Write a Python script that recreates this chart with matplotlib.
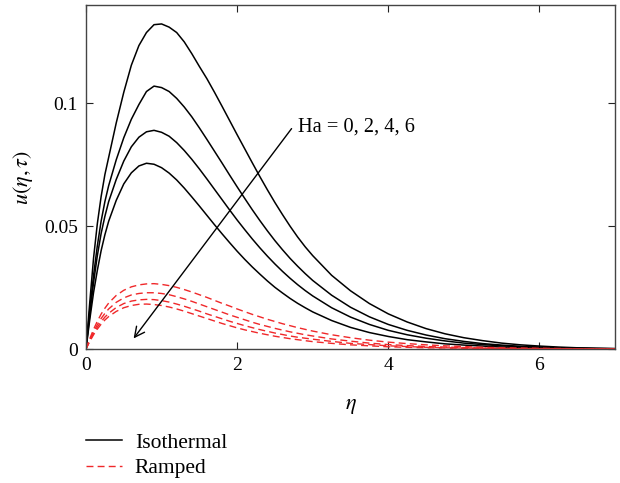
import matplotlib
matplotlib.use("Agg")
import matplotlib.pyplot as plt

plt.rcParams['font.family'] = ['Liberation Serif', 'DejaVu Serif']
plt.rcParams['mathtext.fontset'] = 'stix'

eta = [0, 0.05, 0.1, 0.15, 0.2, 0.25, 0.3,
       0.4, 0.5, 0.6, 0.7, 0.8, 0.9, 1.0, 1.1, 1.2, 1.3, 1.4, 1.5, 1.6, 1.7, 1.8, 1.9,
       2.0, 2.1, 2.2, 2.3, 2.4, 2.5, 2.6, 2.7, 2.8, 2.9, 3.0,
       3.25, 3.5, 3.75, 4.0, 4.25, 4.5, 4.75, 5.0, 5.25, 5.5, 5.75, 6.0, 6.25, 6.5, 6.75, 7.0]

iso_ha0 = [0, 0.019, 0.037, 0.051, 0.062, 0.071, 0.078,
           0.092, 0.1045, 0.1155, 0.1235, 0.1288, 0.1320, 0.1323, 0.1310, 0.1288, 0.1250,
           0.1202, 0.1150, 0.1100, 0.1045, 0.0988, 0.0930,
           0.0872, 0.0815, 0.0758, 0.0702, 0.0648, 0.0596, 0.0547, 0.0500, 0.0456, 0.0416, 0.0380,
           0.0300, 0.0237, 0.0185, 0.0143, 0.0110, 0.0083, 0.0062, 0.0046, 0.0034, 0.0024,
           0.0017, 0.0012, 0.0008, 0.0005, 0.0003, 0.0002]
iso_ha2 = [0, 0.016, 0.030, 0.042, 0.052, 0.060, 0.0665,
           0.077, 0.0860, 0.0935, 0.0995, 0.1048, 0.1070, 0.1064, 0.1048, 0.1020, 0.0985,
           0.0945, 0.0900, 0.0853, 0.0805, 0.0757, 0.0708,
           0.0660, 0.0613, 0.0567, 0.0523, 0.0481, 0.0441, 0.0404, 0.0369, 0.0337, 0.0307, 0.0279,
           0.0219, 0.0170, 0.0131, 0.0100, 0.0076, 0.0057, 0.0042, 0.0031, 0.0022, 0.0016,
           0.0011, 0.0008, 0.0005, 0.0003, 0.0002, 0.0001]
iso_ha4 = [0, 0.014, 0.027, 0.038, 0.047, 0.054, 0.060,
           0.069, 0.0765, 0.0823, 0.0862, 0.0884, 0.0890, 0.0882, 0.0866, 0.0840, 0.0808,
           0.0772, 0.0733, 0.0692, 0.0650, 0.0608, 0.0566,
           0.0525, 0.0486, 0.0448, 0.0412, 0.0378, 0.0346, 0.0316, 0.0288, 0.0262, 0.0238, 0.0216,
           0.0168, 0.0130, 0.0100, 0.0076, 0.0058, 0.0044, 0.0033, 0.0024, 0.0018, 0.0013,
           0.0009, 0.0006, 0.0004, 0.0003, 0.0002, 0.0001]
iso_ha6 = [0, 0.012, 0.023, 0.032, 0.040, 0.0465, 0.052,
           0.0605, 0.0672, 0.0717, 0.0745, 0.0756, 0.0752, 0.0738, 0.0716, 0.0688, 0.0655,
           0.0619, 0.0582, 0.0544, 0.0506, 0.0469, 0.0433,
           0.0398, 0.0365, 0.0334, 0.0305, 0.0277, 0.0251, 0.0228, 0.0206, 0.0186, 0.0168, 0.0151,
           0.0116, 0.0088, 0.0067, 0.0051, 0.0038, 0.0029, 0.0021, 0.0016, 0.0012, 0.0008,
           0.0006, 0.0004, 0.0003, 0.0002, 0.0001, 0.0001]

ramp_ha0 = [0, 0.0042, 0.0080, 0.0113, 0.0142, 0.0166, 0.0187,
            0.0218, 0.0239, 0.0253, 0.0261, 0.0265, 0.0266, 0.0263, 0.0258, 0.0251, 0.0242,
            0.0232, 0.0221, 0.0210, 0.0198, 0.0186, 0.0175,
            0.0163, 0.0152, 0.0141, 0.0131, 0.0121, 0.0112, 0.0103, 0.0095, 0.0087, 0.0080, 0.0073,
            0.0058, 0.0046, 0.0036, 0.0028, 0.0022, 0.0017, 0.0013, 0.0010, 0.0007, 0.0005,
            0.0004, 0.0003, 0.0002, 0.0001, 0.0001, 0.0]
ramp_ha2 = [0, 0.0037, 0.0070, 0.0099, 0.0124, 0.0145, 0.0163,
            0.0190, 0.0208, 0.0220, 0.0226, 0.0229, 0.0229, 0.0226, 0.0221, 0.0213, 0.0204,
            0.0194, 0.0183, 0.0172, 0.0161, 0.0150, 0.0139,
            0.0129, 0.0119, 0.0109, 0.0100, 0.0092, 0.0084, 0.0077, 0.0070, 0.0064, 0.0058, 0.0053,
            0.0041, 0.0032, 0.0024, 0.0018, 0.0014, 0.0010, 0.0008, 0.0006, 0.0004, 0.0003,
            0.0002, 0.0002, 0.0001, 0.0001, 0.0, 0.0]
ramp_ha4 = [0, 0.0034, 0.0063, 0.0089, 0.0111, 0.0130, 0.0145,
            0.0169, 0.0185, 0.0195, 0.0200, 0.0202, 0.0201, 0.0197, 0.0191, 0.0183, 0.0174,
            0.0164, 0.0154, 0.0143, 0.0133, 0.0123, 0.0113,
            0.0104, 0.0095, 0.0087, 0.0079, 0.0072, 0.0065, 0.0059, 0.0053, 0.0048, 0.0044, 0.0040,
            0.0031, 0.0023, 0.0018, 0.0013, 0.0010, 0.0007, 0.0005, 0.0004, 0.0003, 0.0002,
            0.0001, 0.0001, 0.0001, 0.0, 0.0, 0.0]
ramp_ha6 = [0, 0.0031, 0.0058, 0.0081, 0.0101, 0.0118, 0.0132,
            0.0153, 0.0168, 0.0177, 0.0182, 0.0183, 0.0181, 0.0177, 0.0171, 0.0163, 0.0154,
            0.0144, 0.0134, 0.0124, 0.0114, 0.0104, 0.0095,
            0.0086, 0.0078, 0.0071, 0.0064, 0.0058, 0.0052, 0.0047, 0.0042, 0.0038, 0.0034, 0.0030,
            0.0023, 0.0017, 0.0013, 0.0009, 0.0007, 0.0005, 0.0004, 0.0003, 0.0002, 0.0001,
            0.0001, 0.0001, 0.0, 0.0, 0.0, 0.0]

iso_series = [iso_ha0, iso_ha2, iso_ha4, iso_ha6]
ramp_series = [ramp_ha0, ramp_ha2, ramp_ha4, ramp_ha6]

x_ticks = [0, 2, 4, 6]
y_ticks = [0, 0.05, 0.1]
y_ticklabels = ['0', '0.05', '0.1']
annotation = 'Ha = 0, 2, 4, 6'

fig = plt.figure(figsize=(6.2, 4.83), dpi=100)
ax = fig.add_axes([0.1387, 0.2774, 0.8533, 0.7122])

red = '#f0282a'
for i, s in enumerate(iso_series):
    ax.plot(eta, s, color='black', lw=1.1,
            label='Isothermal' if i == 0 else None)
for i, s in enumerate(ramp_series):
    ax.plot(eta, s, color=red, lw=1.0, dashes=(5, 3),
            label='Ramped' if i == 0 else None)

ax.set_xlim(0, 7)
ax.set_ylim(0, 0.14)
ax.set_xticks(x_ticks)
ax.set_xticklabels([str(t) for t in x_ticks])
ax.set_yticks(y_ticks)
ax.set_yticklabels(y_ticklabels)
ax.tick_params(direction='in', top=True, right=True, length=5, width=0.8,
               labelsize=14, pad=6, colors='#222222', labelcolor='black')
for sp in ax.spines.values():
    sp.set_color('#444444')
    sp.set_linewidth(1.0)

ax.set_xlabel(r'$\eta$', fontsize=16, labelpad=16)
ax.set_ylabel(r'$u(\eta, \tau)$', fontsize=16, labelpad=6)

ax.annotate('', xy=(0.63, 0.0043), xytext=(2.72, 0.0897),
            arrowprops=dict(arrowstyle='->', color='black', lw=1.0,
                            mutation_scale=18, shrinkA=0, shrinkB=0))
ax.text(2.8, 0.0905, annotation, fontsize=14.7, va='center', ha='left')

fig.legend(loc='upper left', bbox_to_anchor=(0.1395, 0.104), frameon=False,
           fontsize=15.5, handlelength=1.65, handletextpad=0.6, labelspacing=0.25,
           borderpad=0, borderaxespad=0)

fig.savefig('out.png', dpi=100)
